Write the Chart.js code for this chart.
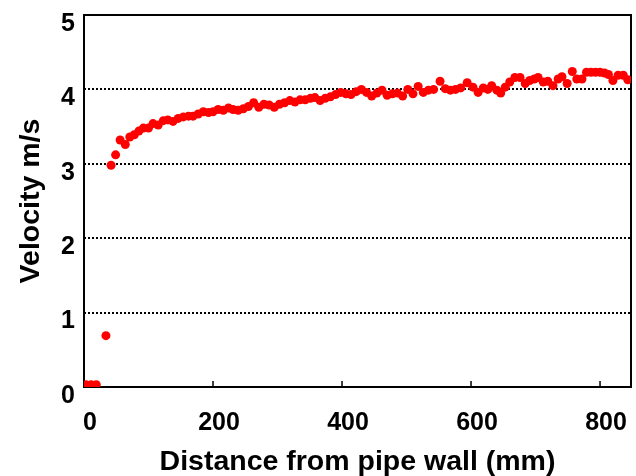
<!DOCTYPE html>
<html>
<head>
<meta charset="utf-8">
<script src="https://cdn.jsdelivr.net/npm/chart.js@4/dist/chart.umd.min.js"></script>
<style>
  body { margin: 0; background: #fff; }
</style>
</head>
<body>
<canvas id="velocity-chart" width="636" height="476"></canvas>
<script>
const distance = [3, 11, 19, 34, 42, 49, 56, 64, 71, 78, 85, 92, 100, 107, 115, 123, 130, 138, 146, 154,
  162, 169, 177, 185, 193, 200, 208, 216, 224, 231, 239, 247, 255, 263, 271, 279, 287, 295, 303, 311,
  319, 327, 335, 343, 351, 358, 366, 374, 382, 390, 398, 406, 414, 422, 430, 438, 446, 454, 462, 470,
  478, 486, 494, 502, 510, 518, 526, 534, 542, 552, 560, 568, 576, 584, 594, 603, 611, 619, 626, 632,
  640, 646, 653, 660, 668, 676, 684, 691, 698, 704, 712, 719, 727, 735, 741, 749, 757, 764, 772, 779,
  786, 793, 800, 807, 813, 820, 828, 836, 843];
const velocity = [0.03, 0.03, 0.03, 0.69, 2.98, 3.12, 3.32, 3.26, 3.36, 3.39, 3.44, 3.48, 3.48, 3.54, 3.52, 3.58, 3.59, 3.57, 3.61, 3.63,
  3.64, 3.64, 3.67, 3.70, 3.69, 3.70, 3.73, 3.72, 3.75, 3.73, 3.72, 3.74, 3.77, 3.82, 3.76, 3.80, 3.79, 3.76, 3.80, 3.82,
  3.85, 3.83, 3.86, 3.86, 3.88, 3.89, 3.85, 3.88, 3.90, 3.93, 3.96, 3.94, 3.93, 3.97, 4.00, 3.96, 3.91, 3.95, 3.99, 3.92,
  3.94, 3.95, 3.91, 4.00, 3.94, 4.04, 3.96, 3.99, 4.00, 4.11, 4.01, 3.99, 4.00, 4.02, 4.09, 4.03, 3.96, 4.02, 4.00, 4.05,
  3.99, 3.95, 4.03, 4.10, 4.16, 4.16, 4.08, 4.12, 4.14, 4.16, 4.10, 4.11, 4.05, 4.14, 4.17, 4.08, 4.24, 4.14, 4.14, 4.23,
  4.23, 4.23, 4.23, 4.22, 4.20, 4.12, 4.19, 4.19, 4.13];
const xTicks = [0, 200, 400, 600, 800];
const yTicks = [0, 1, 2, 3, 4, 5];

const FONT = "'Liberation Sans', Arial, sans-serif";

// box around the plot area plus small inward ticks on the x axis
const frame = {
  id: 'frame',
  beforeDatasetsDraw(chart) {
    const { ctx, chartArea: a, scales: { x } } = chart;
    ctx.save();
    ctx.strokeStyle = '#000';
    ctx.lineWidth = 1.5;
    xTicks.forEach(v => {
      if (v === 0) return;
      const px = x.getPixelForValue(v);
      ctx.beginPath();
      ctx.moveTo(px, a.bottom);
      ctx.lineTo(px, a.bottom - 6);
      ctx.stroke();
    });
    ctx.lineWidth = 2;
    ctx.strokeRect(a.left, a.top, a.right - a.left, a.bottom - a.top);
    ctx.restore();
  }
};

new Chart(document.getElementById('velocity-chart').getContext('2d'), {
  type: 'scatter',
  data: {
    datasets: [{
      data: distance.map((d, i) => ({ x: d, y: velocity[i] })),
      backgroundColor: '#ff0000',
      borderColor: '#ff0000',
      borderWidth: 0,
      pointRadius: 4.5
    }]
  },
  options: {
    responsive: false,
    animation: false,
    layout: { padding: { top: 15, right: 5, bottom: 0, left: 0 } },
    plugins: { legend: { display: false }, tooltip: { enabled: false } },
    scales: {
      x: {
        type: 'linear',
        min: 0,
        max: 848,
        afterBuildTicks: s => { s.ticks = xTicks.map(v => ({ value: v })); },
        afterFit: s => { s.height = 89; s.paddingLeft = 0; s.paddingRight = 0; },
        grid: { display: false, drawTicks: false },
        border: { display: false },
        ticks: { color: '#000', padding: 21, labelOffset: 6, maxRotation: 0, font: { family: FONT, size: 25, weight: 'bold' } },
        title: {
          display: true,
          text: 'Distance from pipe wall (mm)',
          color: '#000',
          padding: { top: 0, bottom: -3 },
          font: { family: FONT, size: 28.5, weight: 'bold' }
        }
      },
      y: {
        min: 0,
        max: 5,
        afterBuildTicks: s => { s.ticks = yTicks.map(v => ({ value: v })); },
        afterFit: s => { s.width = 84; s.paddingTop = 0; s.paddingBottom = 0; },
        grid: {
          drawTicks: false,
          lineWidth: 2,
          color: c => (c.tick && c.tick.value > 0 && c.tick.value < 5) ? '#000' : 'rgba(0,0,0,0)'
        },
        border: { display: false, dash: [2, 2] },
        ticks: { color: '#000', padding: 9, labelOffset: 9, font: { family: FONT, size: 25, weight: 'bold' } },
        title: {
          display: true,
          text: 'Velocity m/s',
          color: '#000',
          padding: { top: 14, bottom: 0 },
          font: { family: FONT, size: 28.5, weight: 'bold' }
        }
      }
    }
  },
  plugins: [frame]
});
</script>
</body>
</html>
